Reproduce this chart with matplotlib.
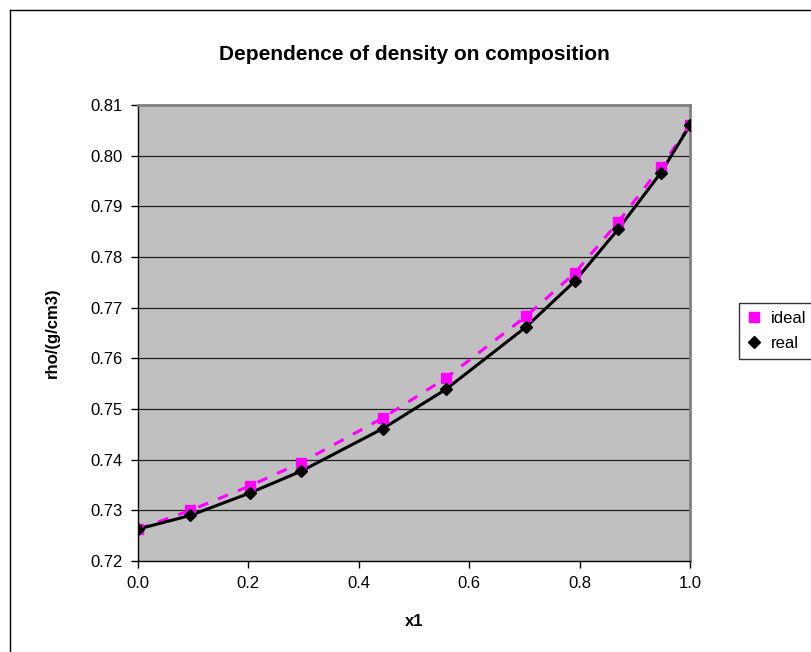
import matplotlib
matplotlib.use("Agg")
import matplotlib.pyplot as plt
from matplotlib.lines import Line2D

plt.rcParams["font.family"] = ["Liberation Sans", "DejaVu Sans"]

# mole fraction x1 and densities
x1 = [0.0, 0.095, 0.202, 0.295, 0.443, 0.558, 0.703, 0.791, 0.870, 0.947, 1.0]
rho_ideal = [0.7263, 0.7300, 0.7348, 0.7394, 0.7482, 0.7561, 0.7683, 0.7768, 0.7869, 0.7978, 0.8060]
rho_real = [0.7263, 0.7290, 0.7334, 0.7377, 0.7461, 0.7539, 0.7662, 0.7752, 0.7855, 0.7966, 0.8060]

x_ticks = [0.0, 0.2, 0.4, 0.6, 0.8, 1.0]
y_ticks = [0.72, 0.73, 0.74, 0.75, 0.76, 0.77, 0.78, 0.79, 0.80, 0.81]

W, H = 812, 652
fig = plt.figure(figsize=(W / 100, H / 100), dpi=100)
ax = fig.add_axes([138 / W, 1 - 561 / H, 552 / W, 456 / H])
ax.set_facecolor("#C0C0C0")

# chart-area frame (only left/top visible in the crop)
fig.add_artist(Line2D([10 / W, 10 / W], [0, 1 - 10 / H], color="black", lw=1.0))
fig.add_artist(Line2D([10 / W, 1], [1 - 10 / H, 1 - 10 / H], color="black", lw=1.0))

for y in y_ticks[1:-1]:
    ax.axhline(y, color="#202020", lw=0.9, zorder=1)

ax.plot(x1, rho_ideal, color="#FF00FF", lw=2.2, ls=(0, (3.5, 3.5)), zorder=2)
ax.plot(x1, rho_real, color="black", lw=2.2, zorder=3)
ax.plot(x1, rho_ideal, ls="none", marker="s", ms=7.5, color="#FF00FF",
        zorder=4, label="ideal")
ax.plot(x1, rho_real, ls="none", marker="D", ms=6.5, color="black",
        zorder=5, label="real")

ax.set_xlim(0, 1.0)
ax.set_ylim(0.72, 0.81)
ax.set_xticks(x_ticks)
ax.set_xticklabels([f"{v:.1f}" for v in x_ticks])
ax.set_yticks(y_ticks)
ax.set_yticklabels([f"{v:.2f}" for v in y_ticks])
ax.tick_params(direction="out", length=5, width=1, labelsize=12, pad=6)

for side in ("top", "right"):
    ax.spines[side].set_color("#808080")
    ax.spines[side].set_linewidth(2)
for side in ("left", "bottom"):
    ax.spines[side].set_color("black")
    ax.spines[side].set_linewidth(1)

ax.set_xlabel("x1", fontsize=12, fontweight="bold", labelpad=16)
ax.set_ylabel("rho/(g/cm3)", fontsize=12, fontweight="bold", labelpad=22)
fig.text(414 / W, 1 - 55 / H, "Dependence of density on composition",
         ha="center", va="center", fontsize=15, fontweight="bold")

leg = ax.legend(loc="center left", bbox_to_anchor=(731 / W, 1 - 331 / H),
                bbox_transform=fig.transFigure, fontsize=12, frameon=True,
                fancybox=False, edgecolor="black", handlelength=0.8,
                handletextpad=0.6, borderpad=0.5, labelspacing=0.6)
leg.get_frame().set_linewidth(1)

fig.savefig("out.png", dpi=100)
